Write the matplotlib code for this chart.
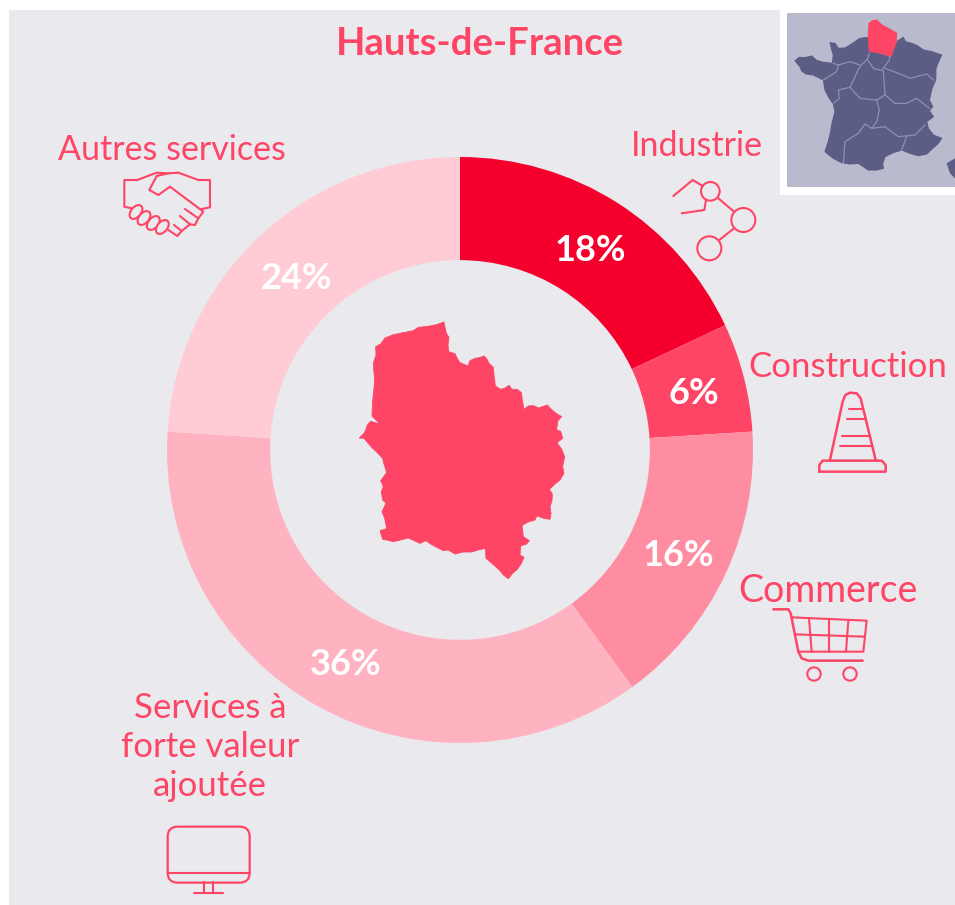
import matplotlib
matplotlib.use('Agg')
import matplotlib.pyplot as plt
from matplotlib.patches import Rectangle, Circle, Ellipse, Polygon, FancyBboxPatch

# donnees du graphique
secteurs = ['Industrie', 'Construction', 'Commerce', 'Services à\nforte valeur\najoutée', 'Autres services']
valeurs = [18, 6, 16, 36, 24]
couleurs = ['#F5002D', '#FF4566', '#FF8DA2', '#FFB3C1', '#FFCCD5']
titre = 'Hauts-de-France'

ROSE = '#FF4566'
FOND = '#E9E9EE'
plt.rcParams['font.family'] = ['Lato', 'DejaVu Sans']

fig = plt.figure(figsize=(9.55, 9.05), dpi=100, facecolor='white')

# calque en pixels pour le fond, les icones et les cartes
bg = fig.add_axes([0, 0, 1, 1])
bg.set_xlim(0, 955)
bg.set_ylim(905, 0)
bg.axis('off')
bg.add_patch(Rectangle((9, 10), 946, 895, fc=FOND, ec='none'))

# donut
cx, cy, r = 460, 450, 293
ax = fig.add_axes([(cx - r) / 955, (905 - cy - r) / 905, 2 * r / 955, 2 * r / 905])
wedges, _, pcts = ax.pie(valeurs, colors=couleurs, startangle=90, counterclock=False, radius=1,
                         wedgeprops={'width': 0.352, 'linewidth': 0}, autopct='%d%%', pctdistance=0.82,
                         textprops={'color': 'white', 'fontsize': 26, 'fontweight': 'bold'})
ax.set_xlim(-1, 1)
ax.set_ylim(-1, 1)
ax.axis('off')
for t in pcts:
    x, y = t.get_position()
    t.set_position((x + 0.004, y - 0.012))

# calque du dessus
top = fig.add_axes([0, 0, 1, 1])
top.set_xlim(0, 955)
top.set_ylim(905, 0)
top.axis('off')
top.patch.set_alpha(0)

top.text(480, 44, titre, color=ROSE, fontsize=27.5, fontweight='bold', ha='center', va='center')

label_pos = [(697, 146), (848, 367), (828, 591), (210, 747), (172, 150)]
label_size = [24.5, 25, 27, 25, 24.5]
for s, (x, y), fs in zip(secteurs, label_pos, label_size):
    top.text(x, y, s, color=ROSE, fontsize=fs, ha='center', va='center', linespacing=1.28)


def z(origin, pts):
    return [(origin[0] + a / 3, origin[1] + b / 3) for a, b in pts]


def trait(origin, pts, lw=1.5):
    p = z(origin, pts)
    top.plot([a for a, b in p], [b for a, b in p], color=ROSE, lw=lw, solid_capstyle='round', solid_joinstyle='round')


def rond(origin, x, y, rayon, lw=1.5):
    p = z(origin, [(x, y)])[0]
    top.add_patch(Circle(p, rayon / 3, fc='none', ec=ROSE, lw=lw))


# poignee de main
o = (100, 130)
trait(o, [(112, 150), (73, 150), (73, 230), (95, 235)])
trait(o, [(112, 150), (170, 128), (205, 130)])
trait(o, [(235, 128), (295, 150), (330, 150), (330, 232), (305, 237)])
trait(o, [(235, 128), (205, 130), (170, 138), (148, 180), (175, 195), (210, 170), (310, 245), (295, 265), (255, 237)])
trait(o, [(295, 265), (285, 285), (270, 283), (240, 258)])
trait(o, [(270, 283), (245, 303), (222, 285)])
trait(o, [(245, 303), (232, 318), (205, 300)])
for x, y in [(108, 246), (132, 264), (160, 279), (187, 291)]:
    top.add_patch(Ellipse(z(o, [(x, y)])[0], 16, 10, angle=-50, fc=FOND, ec=ROSE, lw=1.5))

# robot
o = (660, 160)
rond(o, 151, 94, 28)
rond(o, 250, 180, 36)
rond(o, 148, 265, 36)
trait(o, [(40, 108), (98, 60), (128, 78)])
trait(o, [(138, 120), (133, 150), (65, 160)])
trait(o, [(175, 115), (222, 155)])
trait(o, [(222, 205), (178, 240)])

# cone
o = (760, 380)
trait(o, [(210, 240), (248, 65), (256, 45), (270, 38), (290, 40), (302, 55), (347, 240)], lw=1.8)
trait(o, [(178, 275), (178, 255), (188, 242), (365, 242), (377, 255), (377, 275), (178, 275)], lw=1.8)
trait(o, [(267, 86), (305, 86)])
trait(o, [(260, 116), (315, 116)])
trait(o, [(246, 168), (328, 168)])
trait(o, [(240, 198), (335, 198)])

# caddie
trait(o, [(40, 688), (85, 688), (92, 700), (115, 815), (125, 835), (145, 842), (308, 842)], lw=1.8)
trait(o, [(95, 712), (320, 722), (310, 815), (115, 815)])
trait(o, [(147, 715), (155, 815)])
trait(o, [(208, 718), (208, 815)])
trait(o, [(265, 722), (258, 815)])
trait(o, [(105, 763), (315, 770)])
rond(o, 162, 882, 20)
rond(o, 270, 882, 20)

# ecran
o = (140, 810)
a, b = z(o, [(83, 50)])[0]
top.add_patch(FancyBboxPatch((a + 10, b + 10), 82 - 20, 56 - 20, boxstyle='round,pad=10', fc='none', ec=ROSE, lw=1.6))
trait(o, [(83, 188), (330, 188)])
trait(o, [(192, 217), (192, 247)])
trait(o, [(220, 217), (220, 247)])
trait(o, [(162, 248), (250, 248)])

# region au centre
region = [(312, 36), (315, 52), (319, 70), (327, 82), (324, 104), (326, 125), (345, 131), (352, 146), (360, 158),
          (372, 163), (384, 168), (390, 152), (405, 145), (418, 143), (432, 138), (440, 146), (447, 160), (460, 172),
          (462, 195), (466, 228), (482, 238), (495, 234), (507, 226), (516, 238), (532, 238), (544, 248), (547, 270),
          (552, 298), (565, 288), (580, 287), (596, 294), (610, 289), (622, 285), (634, 298), (648, 310), (665, 320),
          (653, 333), (650, 360), (662, 364), (668, 385), (651, 398), (665, 418), (674, 440), (668, 470), (672, 490),
          (660, 510), (645, 522), (628, 538), (637, 552), (636, 572), (630, 590), (633, 610), (630, 628), (612, 625),
          (590, 618), (585, 630), (565, 636), (546, 646), (550, 680), (568, 692), (560, 702), (542, 708), (540, 735),
          (552, 742), (544, 760), (532, 778), (518, 790), (505, 806), (490, 795), (478, 780), (458, 762), (438, 745),
          (436, 715), (415, 720), (395, 726), (370, 726), (345, 732), (325, 720), (310, 722), (290, 712), (272, 702),
          (258, 692), (240, 700), (222, 692), (205, 684), (182, 690), (160, 695), (140, 690), (128, 688), (120, 662),
          (140, 656), (134, 625), (126, 605), (138, 580), (128, 570), (124, 545), (130, 530), (122, 512), (140, 488),
          (132, 462), (128, 445), (112, 428), (95, 412), (72, 385), (58, 384), (74, 368), (82, 345), (92, 334),
          (120, 342), (96, 318), (98, 272), (104, 215), (100, 160), (108, 135), (107, 110), (122, 102), (135, 84),
          (160, 74), (180, 70), (200, 66), (220, 62), (235, 52), (255, 50), (270, 48), (290, 44)]
top.add_patch(Polygon(z((340, 310), region), closed=True, fc=ROSE, ec=ROSE, lw=0.6, joinstyle='round'))

# carte de France en haut a droite
o = (770, 0)
top.add_patch(Rectangle((780, 0), 175, 195, fc='white', ec='none'))
top.add_patch(Rectangle((787, 13), 168, 174, fc='#B9BACD', ec='none'))
france = [(75, 182), (88, 172), (105, 173), (125, 168), (138, 180), (155, 186), (187, 190), (190, 165), (185, 148),
          (180, 128), (195, 130), (205, 145), (225, 144), (248, 130), (270, 115), (297, 112), (298, 153), (362, 170),
          (380, 125), (400, 112), (406, 125), (425, 130), (442, 137), (460, 150), (485, 155), (515, 165), (506, 185),
          (498, 205), (497, 240), (486, 265), (478, 300), (488, 320), (478, 332), (490, 350), (470, 365), (475, 385),
          (490, 405), (515, 415), (505, 430), (488, 445), (470, 462), (445, 467), (420, 460), (395, 450), (370, 458),
          (345, 470), (338, 490), (340, 505), (320, 510), (295, 510), (265, 490), (240, 492), (215, 488), (190, 475),
          (165, 455), (175, 425), (182, 395), (186, 370), (195, 335), (190, 312), (178, 295), (165, 270), (160, 240),
          (130, 225), (108, 222), (95, 213), (90, 200)]
top.add_patch(Polygon(z(o, france), closed=True, fc='#5B5D85', ec='#5B5D85', lw=0.8, joinstyle='round'))
corse = [(530, 490), (555, 475), (555, 535), (540, 520)]
top.add_patch(Polygon(z(o, corse), closed=True, fc='#5B5D85', ec='none'))
frontieres = [
    [(298, 160), (292, 178), (310, 205), (335, 212), (358, 180), (360, 170)],
    [(292, 178), (270, 200), (262, 215), (240, 262), (205, 270), (208, 295), (190, 310)],
    [(190, 190), (205, 195), (200, 215), (160, 240)],
    [(205, 195), (240, 185), (270, 195)],
    [(240, 262), (270, 295), (320, 300), (345, 285), (340, 212)],
    [(320, 300), (328, 330), (320, 365), (305, 385), (285, 372), (265, 400), (225, 425), (220, 490)],
    [(345, 285), (375, 310), (410, 310), (440, 295), (478, 325)],
    [(345, 205), (385, 220), (420, 235), (470, 222), (490, 240)],
    [(305, 385), (345, 380), (385, 410), (435, 405), (465, 375)],
    [(410, 410), (395, 450)],
]
for f in frontieres:
    p = z(o, f)
    top.plot([a for a, b in p], [b for a, b in p], color='#8E90B3', lw=0.9)
nord = [(297, 70), (308, 62), (320, 60), (335, 75), (355, 85), (380, 100), (378, 130), (362, 170), (335, 160),
        (298, 153), (295, 110)]
top.add_patch(Polygon(z(o, nord), closed=True, fc=ROSE, ec=ROSE, lw=0.8, joinstyle='round'))

fig.savefig('out.png', dpi=100)
